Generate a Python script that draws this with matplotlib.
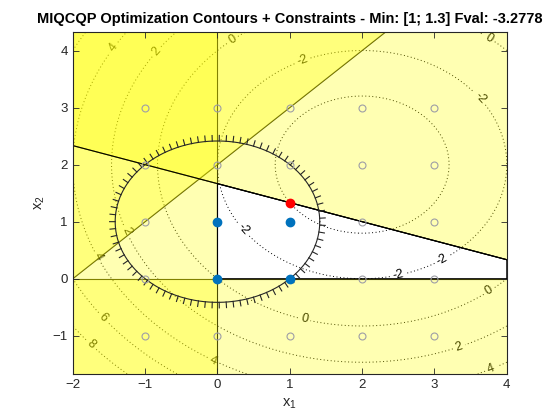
import numpy as np
import matplotlib
matplotlib.use('Agg')
from matplotlib import pyplot as plt
from matplotlib import patheffects

plt.rcParams['font.family'] = ['Liberation Sans', 'DejaVu Sans']
plt.rcParams['mathtext.default'] = 'regular'

''' problem data '''
# objective 0.5*x'Hx + f'x
H = np.array([[1.0, 0.0], [0.0, 1.0]])
f = np.array([-2.0, -2.0])
levels = [-2, 0, 2, 4, 6, 8]
x_opt = [1.0, 4.0 / 3.0]
fval = -3.2778

# linear constraints A x <= b
A = np.array([[-1.0, 0.0], [0.0, -1.0], [1.0, 3.0], [-1.0, 1.0]])
b = np.array([0.0, 0.0, 5.0, 2.0])

# quadratic constraint ||x - c||^2 <= r^2
qc_center = [0.0, 1.0]
qc_radius = np.sqrt(2.0)

# integer grid and feasible integer points
grid_x = [-1, 0, 1, 2, 3]
grid_y = [-1, 0, 1, 2, 3]
feas_x = [0, 0, 1, 1]
feas_y = [0, 1, 0, 1]

# where the contour labels sit
label_pos = [(1.17, 3.84), (3.61, 3.14), (0.2, 0.7), (2.5, 0.05), (3.1, 0.35),
             (0.2, 4.2), (3.75, 4.2), (1.2, -0.7), (3.75, -0.2),
             (-0.84, 3.98), (3.34, -1.2), (-1.26, 0.84),
             (-1.45, 4.07), (-1.63, 0.4), (-0.07, -1.47), (3.78, -1.57),
             (-1.6, -0.7), (-1.74, -1.13)]

xlim = (x_opt[0] - 3, x_opt[0] + 3)
ylim = (x_opt[1] - 3, x_opt[1] + 3)


def clip(poly, a, c):
  # keep the part of poly with a.p <= c
  out = []
  n = len(poly)
  for i in range(n):
    p, q = poly[i], poly[(i + 1) % n]
    dp, dq = a @ p - c, a @ q - c
    if dp <= 0:
      out.append(p)
    if dp * dq < 0:
      t = dp / (dp - dq)
      out.append(p + t * (q - p))
  return out


def cline(a, c, **kw):
  if a[1] == 0:
    ax.axvline(c / a[0], **kw)
  else:
    ax.axline((0, c / a[1]), slope=-a[0] / a[1], **kw)


fig = plt.figure(figsize=(5.6, 4.2), dpi=100)
ax = fig.add_axes([0.13, 0.11, 0.775, 0.815])

# objective contours
gx = np.linspace(xlim[0], xlim[1], 400)
gy = np.linspace(ylim[0], ylim[1], 400)
X1, X2 = np.meshgrid(gx, gy)
Z = 0.5 * (H[0, 0] * X1**2 + 2 * H[0, 1] * X1 * X2 + H[1, 1] * X2**2) + f[0] * X1 + f[1] * X2
dots = (0, (1, 2.6))
cs = ax.contour(X1, X2, Z, levels=levels, colors='k', linewidths=0.7, linestyles=[dots], zorder=1)
ax.contour(X1, X2, Z, levels=[fval], colors='k', linewidths=0.7, linestyles=[dots], zorder=1)
ax.clabel(cs, fmt='%g', fontsize=9, manual=label_pos, inline=True, inline_spacing=3)
for t in cs.labelTexts:
  t.set_zorder(2)

# constraint lines, then infeasible half planes on top
rect = [np.array([xlim[0], ylim[0]]), np.array([xlim[1], ylim[0]]),
        np.array([xlim[1], ylim[1]]), np.array([xlim[0], ylim[1]])]
for a, c in zip(A, b):
  cline(a, c, color='k', lw=0.8, zorder=1.5)
  poly = np.array(clip(rect, -a, -c))
  ax.fill(poly[:, 0], poly[:, 1], color=(1, 1, 0), alpha=0.3, lw=0, zorder=3)

# the active linear constraint stays black over the shading
cline(A[2], b[2], color='k', lw=0.8, zorder=4)

feas = rect
for a, c in zip(A, b):
  feas = clip(feas, a, c)
feas = np.array(feas)
ax.fill(feas[:, 0], feas[:, 1], fill=False, edgecolor='k', lw=0.8, zorder=4)

# quadratic constraint, ticks on the infeasible side
th = np.linspace(0, -2 * np.pi, 400)
ax.plot(qc_center[0] + qc_radius * np.cos(th), qc_center[1] + qc_radius * np.sin(th),
        color=(0.15, 0.15, 0.15), lw=0.8, zorder=5,
        path_effects=[patheffects.withTickedStroke(spacing=5, angle=90, length=0.8)])

# points
GX, GY = np.meshgrid(grid_x, grid_y)
ax.plot(GX.ravel(), GY.ravel(), 'o', ms=5, mfc='none', mec=(0.62, 0.62, 0.65), mew=0.8, zorder=6)
ax.plot(feas_x, feas_y, 'o', ms=6, color='#0072BD', zorder=7)
ax.plot(x_opt[0], x_opt[1], 'o', ms=6, color='r', zorder=8)

ax.set_xlim(xlim)
ax.set_ylim(ylim)
ax.set_xticks(range(-2, 5))
ax.set_yticks(range(-1, 5))
ax.tick_params(direction='in', top=True, right=True, length=4, width=0.6,
               labelsize=9.5, colors=(0.15, 0.15, 0.15))
for s in ax.spines.values():
  s.set_color((0.15, 0.15, 0.15))
  s.set_linewidth(0.8)
  s.set_zorder(10)
ax.xaxis.set_zorder(10)
ax.yaxis.set_zorder(10)
ax.set_xlabel('x$_1$', fontsize=10.5, color=(0.15, 0.15, 0.15))
ax.set_ylabel('x$_2$', fontsize=10.5, color=(0.15, 0.15, 0.15))
ax.set_title('MIQCQP Optimization Contours + Constraints - Min: [1; 1.3] Fval: -3.2778',
             fontsize=10.5, fontweight='bold', pad=6)

fig.savefig('out.png', dpi=100)
